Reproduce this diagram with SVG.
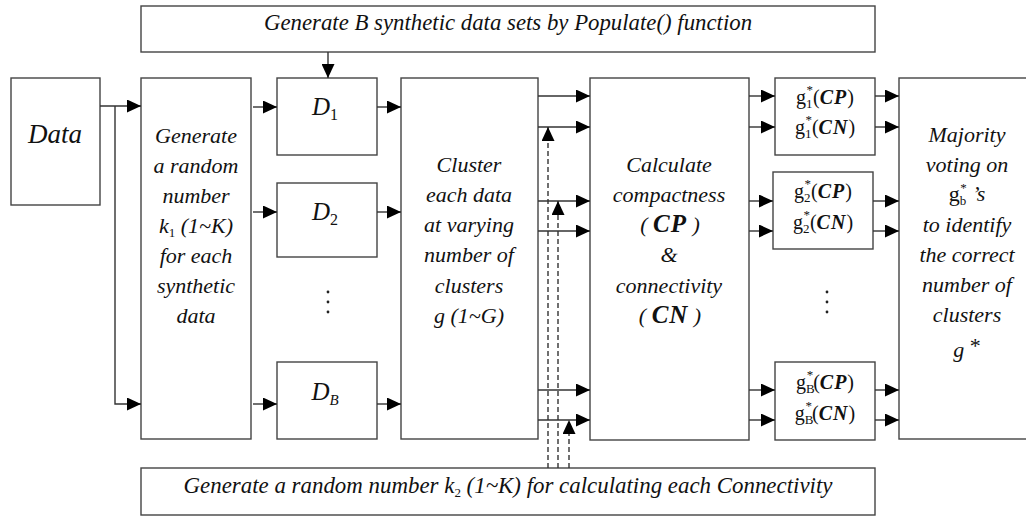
<svg xmlns="http://www.w3.org/2000/svg" width="1026" height="516" viewBox="0 0 1026 516">
<defs>
<style>
.box{fill:#fff;stroke:#444;stroke-width:1.4}
.ln{fill:none;stroke:#333;stroke-width:1.4}
.dash{fill:none;stroke:#333;stroke-width:1.4;stroke-dasharray:5,3}
.t{font-style:italic;font-size:22px;fill:#111;text-anchor:middle}
.g{font-size:20px;fill:#111;text-anchor:middle}
.cal{font-weight:bold;font-style:italic;letter-spacing:1px}
.sub{font-size:13px;font-style:normal}
</style>
<marker id="ah" markerWidth="14" markerHeight="13" refX="14" refY="6.5" orient="auto" markerUnits="userSpaceOnUse"><path d="M0,0 L14,6.5 L0,13 z" fill="#000"/></marker>
</defs>

<g font-family="'Liberation Serif', 'DejaVu Serif', serif">
<g id="top-box"><rect class="box" x="141" y="6" width="734" height="46"/><text class="t" x="508" y="30" style="font-size:22.8px">Generate B synthetic data sets by Populate() function</text></g>
<g id="bottom-box"><rect class="box" x="141" y="468" width="734" height="47"/><text class="t" x="508" y="493" style="font-size:22.9px">Generate a random number k<tspan class="sub" dy="4">2</tspan><tspan dy="-4"> (1~K) for calculating each Connectivity</tspan></text></g>

<g id="data"><rect class="box" x="11" y="78" width="89" height="127"/><text class="t" x="55" y="143" style="font-size:27px">Data</text></g>

<g id="generate"><rect class="box" x="141" y="78" width="110" height="361"/>
<text class="t" x="196" y="143">Generate</text>
<text class="t" x="196" y="173">a random</text>
<text class="t" x="196" y="203">number</text>
<text class="t" x="196" y="233">k<tspan class="sub" dy="4">1</tspan><tspan dy="-4"> (1~K)</tspan></text>
<text class="t" x="196" y="263">for each</text>
<text class="t" x="196" y="293">synthetic</text>
<text class="t" x="196" y="323">data</text>
</g>

<g id="d1"><rect class="box" x="277" y="78" width="100" height="77"/><text class="t" x="325" y="115" style="font-size:25px">D<tspan font-style="normal" font-size="16" dy="5">1</tspan></text></g>
<g id="d2"><rect class="box" x="277" y="183" width="100" height="74"/><text class="t" x="325" y="220" style="font-size:25px">D<tspan font-style="normal" font-size="16" dy="5">2</tspan></text></g>
<g id="dots1" fill="#222"><circle cx="328" cy="292" r="1.4"/><circle cx="328" cy="302" r="1.4"/><circle cx="328" cy="312" r="1.4"/></g>
<g id="dB"><rect class="box" x="277" y="362" width="100" height="77"/><text class="t" x="325" y="400" style="font-size:25px">D<tspan font-size="15" dy="5">B</tspan></text></g>

<g id="cluster"><rect class="box" x="401" y="78" width="137" height="361"/>
<text class="t" x="469" y="172">Cluster</text>
<text class="t" x="469" y="202">each data</text>
<text class="t" x="469" y="232">at varying</text>
<text class="t" x="469" y="262">number of</text>
<text class="t" x="469" y="293">clusters</text>
<text class="t" x="469" y="323">g (1~G)</text>
</g>

<g id="calculate"><rect class="box" x="590" y="78" width="159" height="362"/>
<text class="t" x="669" y="172">Calculate</text>
<text class="t" x="669" y="202">compactness</text>
<text class="t" x="670" y="232">( <tspan class="cal" font-size="25">CP</tspan> )</text>
<text class="t" x="669" y="262">&amp;</text>
<text class="t" x="669" y="293">connectivity</text>
<text class="t" x="670" y="323">( <tspan class="cal" font-size="25">CN</tspan>  )</text>
</g>

<g id="g1"><rect class="box" x="775" y="78" width="100" height="77"/>
<text class="g" x="825" y="104">g<tspan class="sub" dy="4">1</tspan><tspan class="sub" dx="-6" dy="-14">*</tspan><tspan dy="10">(</tspan><tspan class="cal">CP</tspan>)</text>
<text class="g" x="825" y="134">g<tspan class="sub" dy="4">1</tspan><tspan class="sub" dx="-6" dy="-14">*</tspan><tspan dy="10">(</tspan><tspan class="cal">CN</tspan>)</text>
</g>
<g id="g2"><rect class="box" x="773" y="172" width="100" height="77"/>
<text class="g" x="823" y="198">g<tspan class="sub" dy="4">2</tspan><tspan class="sub" dx="-6" dy="-14">*</tspan><tspan dy="10">(</tspan><tspan class="cal">CP</tspan>)</text>
<text class="g" x="823" y="229">g<tspan class="sub" dy="4">2</tspan><tspan class="sub" dx="-6" dy="-14">*</tspan><tspan dy="10">(</tspan><tspan class="cal">CN</tspan>)</text>
</g>
<g id="dots2" fill="#222"><circle cx="827" cy="292" r="1.4"/><circle cx="827" cy="302" r="1.4"/><circle cx="827" cy="312" r="1.4"/></g>
<g id="gB"><rect class="box" x="775" y="362" width="100" height="78"/>
<text class="g" x="825" y="389">g<tspan class="sub" font-style="italic" dy="4">B</tspan><tspan class="sub" dx="-8" dy="-14">*</tspan><tspan dy="10">(</tspan><tspan class="cal">CP</tspan>)</text>
<text class="g" x="825" y="420">g<tspan class="sub" font-style="italic" dy="4">B</tspan><tspan class="sub" dx="-8" dy="-14">*</tspan><tspan dy="10">(</tspan><tspan class="cal">CN</tspan>)</text>
</g>

<g id="majority"><rect class="box" x="899" y="78" width="140" height="361"/>
<text class="t" x="967" y="142">Majority</text>
<text class="t" x="967" y="172">voting on</text>
<text class="t" x="967" y="201"><tspan font-style="normal">g</tspan><tspan class="sub" font-style="italic" dy="4">b</tspan><tspan class="sub" dx="-6" dy="-13">*</tspan><tspan dy="9"> ’s</tspan></text>
<text class="t" x="967" y="232">to identify</text>
<text class="t" x="967" y="262">the correct</text>
<text class="t" x="967" y="292">number of</text>
<text class="t" x="967" y="322">clusters</text>
<text class="t" x="967" y="357">g <tspan font-style="normal" dy="-4">*</tspan></text>
</g>
</g>

<g id="connectors">
<path class="ln" d="M100,106 H141" marker-end="url(#ah)"/>
<path class="ln" d="M115,106 V404 H141" marker-end="url(#ah)"/>
<path class="ln" d="M328,52 V78" marker-end="url(#ah)"/>
<path class="ln" d="M253,107 H277" marker-end="url(#ah)"/>
<path class="ln" d="M253,212 H277" marker-end="url(#ah)"/>
<path class="ln" d="M253,404 H277" marker-end="url(#ah)"/>
<path class="ln" d="M377,107 H401" marker-end="url(#ah)"/>
<path class="ln" d="M377,212 H401" marker-end="url(#ah)"/>
<path class="ln" d="M377,404 H401" marker-end="url(#ah)"/>
<path class="ln" d="M538,96 H590" marker-end="url(#ah)"/>
<path class="ln" d="M538,127 H590" marker-end="url(#ah)"/>
<path class="ln" d="M538,201 H590" marker-end="url(#ah)"/>
<path class="ln" d="M538,231 H590" marker-end="url(#ah)"/>
<path class="ln" d="M538,390 H590" marker-end="url(#ah)"/>
<path class="ln" d="M538,420 H590" marker-end="url(#ah)"/>
<path class="dash" d="M548,468 V127" marker-end="url(#ah)"/>
<path class="dash" d="M558,468 V201" marker-end="url(#ah)"/>
<path class="dash" d="M569,468 V420" marker-end="url(#ah)"/>
<path class="ln" d="M749,96 H775" marker-end="url(#ah)"/>
<path class="ln" d="M749,127 H775" marker-end="url(#ah)"/>
<path class="ln" d="M749,201 H773" marker-end="url(#ah)"/>
<path class="ln" d="M749,231 H773" marker-end="url(#ah)"/>
<path class="ln" d="M749,390 H775" marker-end="url(#ah)"/>
<path class="ln" d="M749,420 H775" marker-end="url(#ah)"/>
<path class="ln" d="M875,96 H899" marker-end="url(#ah)"/>
<path class="ln" d="M875,127 H899" marker-end="url(#ah)"/>
<path class="ln" d="M873,201 H899" marker-end="url(#ah)"/>
<path class="ln" d="M873,231 H899" marker-end="url(#ah)"/>
<path class="ln" d="M875,390 H899" marker-end="url(#ah)"/>
<path class="ln" d="M875,420 H899" marker-end="url(#ah)"/>
</g>
</svg>
